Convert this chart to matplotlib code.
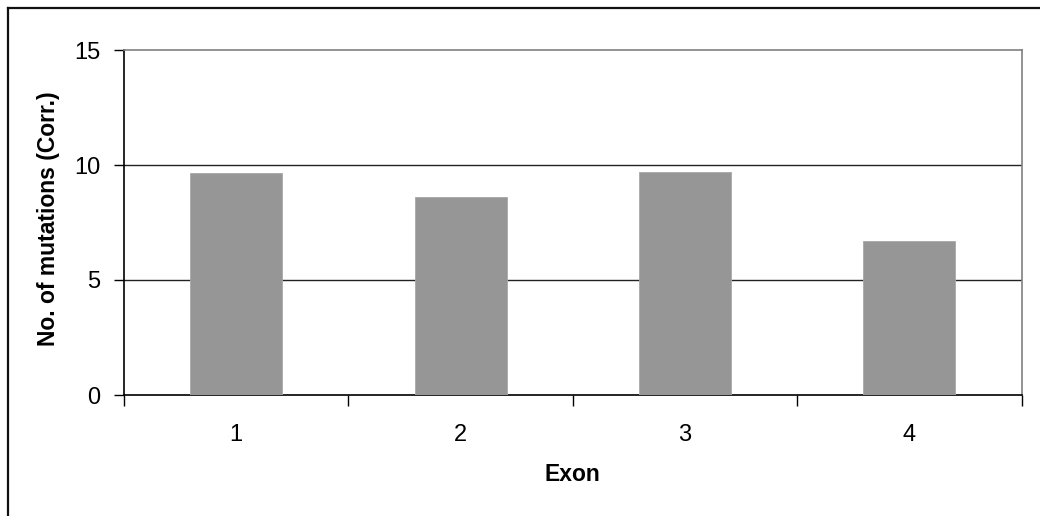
import matplotlib
matplotlib.use("Agg")
import matplotlib.pyplot as plt
from matplotlib.lines import Line2D
import numpy as np

categories = ["1", "2", "3", "4"]
values = [9.65, 8.6, 9.7, 6.68]
y_ticks = [0, 5, 10, 15]

plt.rcParams['font.family'] = ['Liberation Sans', 'DejaVu Sans']

fig = plt.figure(figsize=(10.4, 5.16), dpi=100)
ax = fig.add_axes([124/1040, 1 - 395/516, (1021.5-124)/1040, (395-50)/516])

x = np.arange(len(categories))
ax.bar(x, values, width=0.41, color="#969696", edgecolor="#a8a8a8", linewidth=0.6, zorder=3)

ax.set_xlim(-0.5, len(categories) - 0.5)
ax.set_ylim(0, 15)
ax.set_yticks(y_ticks)
ax.set_yticklabels([str(v) for v in y_ticks], fontsize=17)

# major ticks at category boundaries (no labels), minor at centers with labels
ax.set_xticks(np.arange(-0.5, len(categories), 1.0))
ax.set_xticklabels([])
ax.set_xticks(x, minor=True)
ax.set_xticklabels(categories, minor=True, fontsize=17)
ax.tick_params(axis='x', which='major', direction='out', length=8, width=1, color='black')
ax.tick_params(axis='x', which='minor', length=0, pad=21)
ax.tick_params(axis='y', direction='out', length=7, width=1, color='black', pad=10)

for yv in y_ticks[1:-1]:
    ax.axhline(yv, color='#222222', linewidth=1.0, zorder=1)

ax.spines['left'].set_color('black')
ax.spines['left'].set_linewidth(1.2)
ax.spines['bottom'].set_color('black')
ax.spines['bottom'].set_linewidth(1.2)
ax.spines['top'].set_color('#808080')
ax.spines['top'].set_linewidth(1.2)
ax.spines['right'].set_color('#808080')
ax.spines['right'].set_linewidth(1.2)

ax.set_ylabel("No. of mutations (Corr.)", fontsize=16.5, fontweight='bold')
ax.set_xlabel("Exon", fontsize=16.5, fontweight='bold')
ax.yaxis.set_label_coords(-(124-60)/(1021.5-124), 0.51)
ax.xaxis.set_label_coords(0.5, -(463-395)/(395-50))

# figure frame (left and top edges visible)
fig.add_artist(Line2D([7.5/1040, 7.5/1040], [0, 1 - 7.5/516], transform=fig.transFigure, color='#111111', linewidth=1.6))
fig.add_artist(Line2D([7.5/1040, 1], [1 - 7.5/516, 1 - 7.5/516], transform=fig.transFigure, color='#111111', linewidth=1.6))

fig.savefig("out.png", dpi=100)
